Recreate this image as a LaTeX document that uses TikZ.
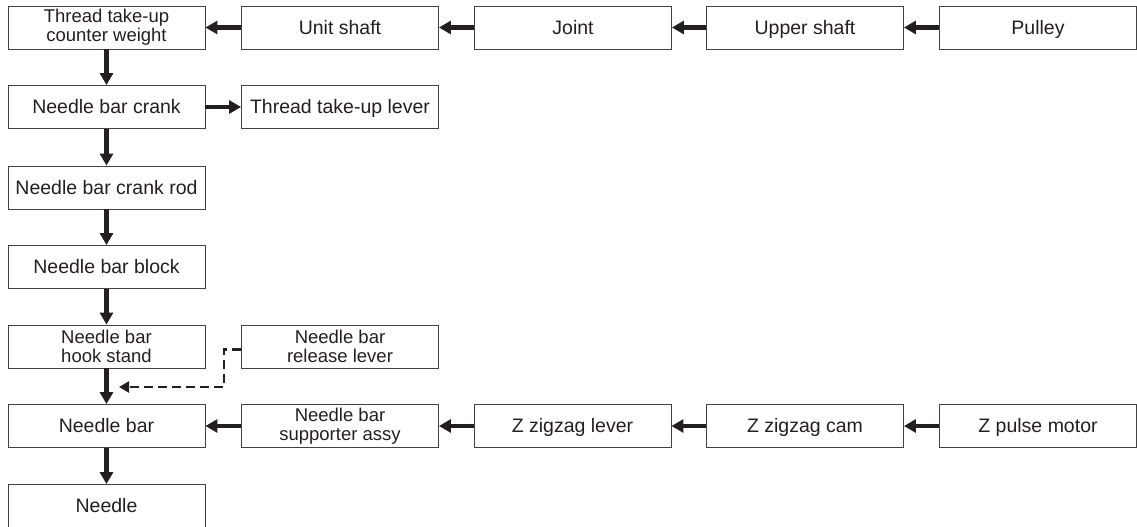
\documentclass[tikz,border=0pt]{standalone}
\usepackage{fontspec}
\setmainfont{Liberation Sans}
\usetikzlibrary{arrows.meta}
\definecolor{ink}{HTML}{231F20}
\tikzset{
  basebox/.style={draw=ink!85, line width=0.9pt, minimum width=197pt, minimum height=43pt, inner sep=0pt, align=center, text=ink},
  box/.style={basebox, text height=15.5pt, text depth=2pt, font=\fontsize{19.5}{19.5}\selectfont},
  smallbox/.style={basebox, font=\fontsize{18.5}{19}\selectfont},
  flow/.style={draw=ink, line width=4.2pt, -{Triangle[length=12pt,width=13pt]}},
  aux/.style={draw=ink, line width=2.7pt, dash pattern=on 9pt off 5pt, -{Triangle[length=10pt,width=11pt]}}
}
\begin{document}
\begin{tikzpicture}[x=1pt,y=-1pt]
\useasboundingbox (0,0) rectangle (1137,527);
\begin{scope}
\clip (0,0) rectangle (1137,527);
\node[smallbox] (tw) at (106.5,27.5) {Thread take-up\\counter weight};
\node[box] (us) at (340,27.5) {Unit shaft};
\node[box] (jo) at (573,27.5) {Joint};
\node[box] (up) at (805,27.5) {Upper shaft};
\node[box] (pu) at (1038,27.5) {Pulley};
\node[box] (nbc) at (106.5,107) {Needle bar crank};
\node[box] (tl) at (340,107) {Thread take-up lever};
\node[box] (rod) at (106.5,187.5) {Needle bar crank rod};
\node[box] (blk) at (106.5,267) {Needle bar block};
\node[smallbox] (hs) at (106.5,346.5) {Needle bar\\hook stand};
\node[smallbox] (rl) at (340,346.5) {Needle bar\\release lever};
\node[box] (nb) at (106.5,426) {Needle bar};
\node[smallbox] (sa) at (340,426) {Needle bar\\supporter assy};
\node[box] (zl) at (572.5,426) {Z zigzag lever};
\node[box] (zc) at (805,426) {Z zigzag cam};
\node[box] (pm) at (1038,426) {Z pulse motor};
\node[box] (nd) at (106.5,506) {Needle};
\end{scope}
\draw[flow] (pu) -- (up);
\draw[flow] (up) -- (jo);
\draw[flow] (jo) -- (us);
\draw[flow] (us) -- (tw);
\draw[flow] (tw) -- (nbc);
\draw[flow] (nbc) -- (tl);
\draw[flow] (nbc) -- (rod);
\draw[flow] (rod) -- (blk);
\draw[flow] (blk) -- (hs);
\draw[flow] (hs) -- (nb);
\draw[flow] (nb) -- (nd);
\draw[flow] (pm) -- (zc);
\draw[flow] (zc) -- (zl);
\draw[flow] (zl) -- (sa);
\draw[flow] (sa) -- (nb);
\coordinate (dtip) at (119,387);
\draw[aux] ([yshift=-3pt]rl.west) -| (224,387) -- (dtip);
\end{tikzpicture}
\end{document}
